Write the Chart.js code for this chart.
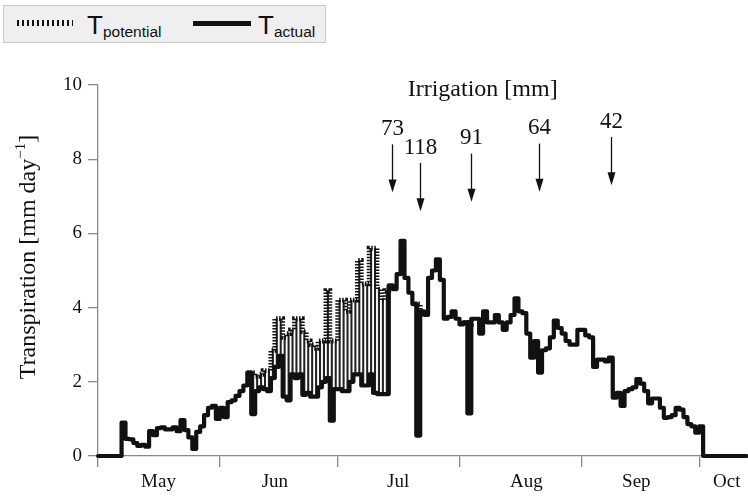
<!DOCTYPE html>
<html>
<head>
<meta charset="utf-8">
<script src="https://cdn.jsdelivr.net/npm/chart.js@4/dist/chart.umd.min.js"></script>
<style>
  html, body { margin: 0; padding: 0; background: #fff; }
  #wrap { position: relative; width: 748px; height: 496px; }
  #chart { position: absolute; left: 0; top: 0; }
  #legend {
    position: absolute; left: 3px; top: 5px; width: 321px; height: 36px;
    background: #efefef; border: 1px solid #cacaca;
    font-family: "Liberation Sans", Arial, sans-serif; color: #111;
  }
  .sample { position: absolute; }
  .dots { top: 14px; height: 6px; background: repeating-linear-gradient(90deg, #111 0 2.5px, transparent 2.5px 5px); }
  .solid { top: 15px; height: 5px; background: #111; }
  .lbl { position: absolute; top: 6px; font-size: 26px; line-height: 26px; white-space: nowrap; }
  .lbl sub { font-size: 15.5px; vertical-align: -3px; line-height: 0; }
</style>
</head>
<body>
<div id="wrap">
  <canvas id="chart" width="748" height="496"></canvas>
  <div id="legend">
    <span class="sample dots" style="left:13px;width:56px;"></span>
    <span class="lbl" style="left:83px;">T<sub>potential</sub></span>
    <span class="sample solid" style="left:189px;width:58px;"></span>
    <span class="lbl" style="left:254px;">T<sub>actual</sub></span>
  </div>
</div>
<script>
// Daily transpiration from 1 May (day 0) onward, mm/day
const tActual = [
  0, 0, 0, 0, 0, 0, 0.9, 0.46, 0.45, 0.35,
  0.27, 0.3, 0.25, 0.67, 0.56, 0.75, 0.77, 0.72, 0.72, 0.77,
  0.67, 0.97, 0.7, 0.5, 0.19, 0.65, 0.8, 1.1, 1.3, 1.35,
  1.0, 1.3, 1.05, 1.45, 1.5, 1.62, 1.75, 1.9, 2.25, 1.13,
  1.75, 1.85, 1.8, 1.75, 2.1, 2.4, 2.7, 1.6, 1.5, 2.2,
  2.1, 2.2, 1.65, 1.7, 1.6, 1.6, 1.85, 2.0, 2.1, 0.95,
  1.8, 1.8, 1.75, 1.75, 2.0, 2.2, 2.2, 1.9, 1.9, 2.2,
  1.7, 1.67, 1.67, 1.67, 4.6, 4.5, 4.9, 5.8, 4.8, 4.4,
  4.1, 0.55, 3.9, 3.8, 4.8, 5.0, 5.3, 4.75, 3.7, 3.75,
  3.9, 3.7, 3.55, 3.6, 1.15, 3.7, 3.7, 3.3, 3.9, 3.6,
  3.6, 3.8, 3.6, 3.4, 3.6, 3.8, 4.25, 3.9, 3.85, 3.3,
  2.65, 3.1, 2.25, 2.85, 2.9, 3.2, 3.65, 3.45, 3.3, 3.1,
  3.0, 3.0, 3.4, 3.4, 3.25, 3.2, 2.4, 2.6, 2.6, 2.55,
  2.65, 1.57, 1.7, 1.35, 1.75, 1.8, 1.85, 2.07, 1.95, 1.75,
  1.42, 1.55, 1.55, 1.3, 1.03, 1.05, 1.1, 1.3, 1.25, 1.05,
  0.86, 0.8, 0.63, 0.8, 0, 0, 0, 0, 0, 0,
  0, 0, 0, 0, 0
];

const tPotential = [
  0, 0, 0, 0, 0, 0, 0.9, 0.46, 0.45, 0.35,
  0.27, 0.3, 0.25, 0.67, 0.56, 0.75, 0.77, 0.72, 0.72, 0.77,
  0.67, 0.97, 0.7, 0.5, 0.19, 0.65, 0.8, 1.1, 1.3, 1.35,
  1.0, 1.3, 1.05, 1.45, 1.5, 1.62, 1.75, 1.9, 2.25, 2.25,
  2.15, 2.2, 2.3, 2.3, 2.85, 3.7, 3.7, 3.2, 3.3, 3.4,
  3.7, 3.7, 3.35, 3.1, 3.0, 2.9, 3.1, 3.1, 4.46, 3.1,
  3.1, 4.2, 4.2, 3.9, 4.2, 4.2, 5.27, 4.64, 4.64, 5.6,
  5.6, 4.5, 4.2, 4.46, 4.6, 4.5, 4.9, 5.8, 4.8, 4.4,
  4.1, 4.1, 3.9, 3.8, 4.8, 5.0, 5.3, 4.75, 3.7, 3.75,
  3.9, 3.7, 3.55, 3.6, 3.55, 3.7, 3.7, 3.3, 3.9, 3.6,
  3.6, 3.8, 3.6, 3.4, 3.6, 3.8, 4.25, 3.9, 3.85, 3.3,
  2.65, 3.1, 2.25, 2.85, 2.9, 3.2, 3.65, 3.45, 3.3, 3.1,
  3.0, 3.0, 3.4, 3.4, 3.25, 3.2, 2.4, 2.6, 2.6, 2.55,
  2.65, 1.57, 1.7, 1.35, 1.75, 1.8, 1.85, 2.07, 1.95, 1.75,
  1.42, 1.55, 1.55, 1.3, 1.03, 1.05, 1.1, 1.3, 1.25, 1.05,
  0.86, 0.8, 0.63, 0.8, 0, 0, 0, 0, 0, 0,
  0, 0, 0, 0, 0
];

// Month boundaries (day offsets) and where the month names sit
const monthStartDays = [0, 31, 61, 92, 123, 153];
const monthNames = ['May', 'Jun', 'Jul', 'Aug', 'Sep', 'Oct'];
const monthNameDays = [15.4, 45, 76.4, 109, 137, 160];

// Irrigation events: day offset and applied amount (mm)
const irrigationDays = [74.9, 81.9, 94.8, 112.3, 130.5];
const irrigationAmounts = [73, 118, 91, 64, 42];

const yTicks = [0, 2, 4, 6, 8, 10];

const X_MAX = 164.4;
const SERIF = '"Liberation Serif", "Times New Roman", serif';
const INK = '#111';
const AXIS = '#8a8a8a';

function steps(values) {
  const pts = values.map((v, i) => ({ x: i, y: v }));
  pts.push({ x: values.length, y: values[values.length - 1] });
  return pts;
}

function sameAt(i) {
  const k = Math.min(i, tActual.length - 1);
  return tPotential[k] === tActual[k];
}

// vertical strokes filling the gap between potential and actual, one per day
const gapBars = [];
tPotential.forEach((p, i) => {
  if (p > tActual[i]) gapBars.push({ x: i + 0.5, y: [tActual[i], p] });
});

// arrow tip heights (y units) for the irrigation markers
const arrowTips = [7.1, 6.6, 6.85, 7.12, 7.3];

const irrigationPlugin = {
  id: 'irrigationNotes',
  afterDraw(chart) {
    const { ctx } = chart;
    const xs = chart.scales.x, ys = chart.scales.y;
    ctx.save();
    ctx.fillStyle = INK;
    ctx.strokeStyle = INK;
    ctx.textAlign = 'center';
    ctx.textBaseline = 'middle';

    ctx.font = '24px ' + SERIF;
    ctx.fillText('Irrigation [mm]', xs.getPixelForValue(97.9), ys.getPixelForValue(9.87));

    ctx.font = '23px ' + SERIF;
    irrigationDays.forEach((d, i) => {
      const px = Math.round(xs.getPixelForValue(d)) + 0.5;
      const tip = ys.getPixelForValue(arrowTips[i]);
      const tail = ys.getPixelForValue(arrowTips[i] + 1.3);
      const lab = ys.getPixelForValue(arrowTips[i] + 1.71);
      ctx.fillText(String(irrigationAmounts[i]), px, lab);
      ctx.lineWidth = 1.3;
      ctx.beginPath();
      ctx.moveTo(px, tail);
      ctx.lineTo(px, tip - 8);
      ctx.stroke();
      ctx.beginPath();
      ctx.moveTo(px, tip);
      ctx.lineTo(px - 4, tip - 13);
      ctx.lineTo(px + 4, tip - 13);
      ctx.closePath();
      ctx.fill();
    });

    // y-axis title with superscript unit
    const main = 'Transpiration [mm day';
    const sup = '\u22121';
    const close = ']';
    ctx.font = '24px ' + SERIF;
    const w1 = ctx.measureText(main).width;
    const w3 = ctx.measureText(close).width;
    ctx.font = '15px ' + SERIF;
    const w2 = ctx.measureText(sup).width;
    const total = w1 + w2 + w3;
    ctx.translate(35, 257);
    ctx.rotate(-Math.PI / 2);
    ctx.textAlign = 'left';
    ctx.textBaseline = 'alphabetic';
    let cx = -total / 2;
    ctx.font = '24px ' + SERIF;
    ctx.fillText(main, cx, 0);
    cx += w1;
    ctx.font = '15px ' + SERIF;
    ctx.fillText(sup, cx, -10);
    cx += w2;
    ctx.font = '24px ' + SERIF;
    ctx.fillText(close, cx, 0);
    ctx.restore();
  }
};

new Chart(document.getElementById('chart'), {
  type: 'line',
  data: {
    datasets: [
      {
        label: 'T actual',
        data: steps(tActual),
        stepped: true,
        borderColor: INK,
        borderWidth: 4.2,
        borderJoinStyle: 'round',
        borderCapStyle: 'round',
        pointRadius: 0,
        fill: false,
        clip: 6,
        order: 0
      },
      {
        label: 'T potential',
        data: steps(tPotential),
        stepped: true,
        borderColor: INK,
        borderWidth: 4.8,
        borderDash: [1.5, 1.5],
        borderCapStyle: 'butt',
        pointRadius: 0,
        fill: false,
        clip: 6,
        order: 1,
        segment: {
          borderColor: (c) => (sameAt(c.p0DataIndex) && sameAt(c.p1DataIndex)) ? 'rgba(0,0,0,0)' : undefined
        }
      },
      {
        type: 'bar',
        label: 'gap',
        data: gapBars,
        backgroundColor: '#222',
        barThickness: 1.4,
        order: 2
      }
    ]
  },
  options: {
    responsive: false,
    animation: false,
    devicePixelRatio: 1,
    layout: { padding: { top: 85, left: 0, right: 0, bottom: 0 } },
    plugins: { legend: { display: false }, tooltip: { enabled: false } },
    scales: {
      x: {
        type: 'linear',
        min: 0,
        max: X_MAX,
        offset: false,
        border: { color: AXIS, width: 1.3 },
        grid: {
          offset: false,
          drawOnChartArea: false,
          drawTicks: true,
          tickLength: 11,
          lineWidth: 1.3,
          tickColor: (c) => (c.tick && monthStartDays.includes(c.tick.value)) ? AXIS : 'rgba(0,0,0,0)'
        },
        afterBuildTicks: (scale) => {
          const vals = monthStartDays.concat(monthNameDays, [X_MAX]).sort((a, b) => a - b);
          scale.ticks = vals.map(v => ({ value: v }));
        },
        afterFit: (scale) => { scale.height = 40; },
        ticks: {
          autoSkip: false,
          maxRotation: 0,
          minRotation: 0,
          padding: 4,
          color: INK,
          font: { family: SERIF, size: 19 },
          callback: (v) => {
            const k = monthNameDays.indexOf(v);
            return k >= 0 ? monthNames[k] : '';
          }
        }
      },
      y: {
        type: 'linear',
        min: 0,
        max: 10,
        border: { color: AXIS, width: 1.3 },
        grid: {
          drawOnChartArea: false,
          drawTicks: true,
          tickLength: 10,
          lineWidth: 1.3,
          tickColor: AXIS
        },
        afterBuildTicks: (scale) => { scale.ticks = yTicks.map(v => ({ value: v })); },
        afterFit: (scale) => { scale.width = 98; },
        ticks: {
          padding: 6,
          color: INK,
          font: { family: SERIF, size: 19 }
        }
      }
    }
  },
  plugins: [irrigationPlugin]
});
</script>
</body>
</html>
